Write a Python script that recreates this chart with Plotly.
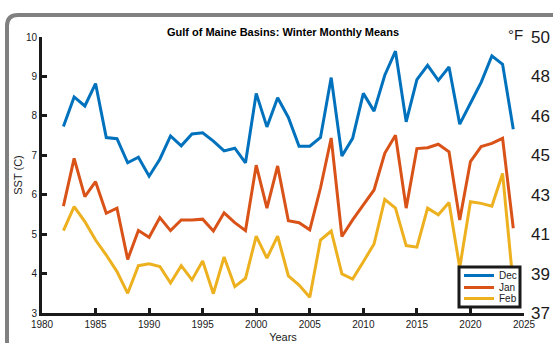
import plotly.graph_objects as go

# Winter monthly mean sea-surface temperature, Gulf of Maine basins (deg C)
years = list(range(1982, 2025))

dec_sst = [7.73, 8.48, 8.25, 8.82, 7.45, 7.42, 6.81, 6.95, 6.47, 6.90,
           7.49, 7.24, 7.54, 7.57, 7.36, 7.11, 7.18, 6.81, 8.57, 7.72,
           8.46, 7.96, 7.23, 7.23, 7.45, 8.97, 6.98, 7.43, 8.57, 8.12,
           9.03, 9.64, 7.85, 8.92, 9.28, 8.90, 9.24, 7.79, 8.32, 8.85,
           9.52, 9.31, 7.66]

jan_sst = [5.71, 6.92, 5.95, 6.33, 5.53, 5.66, 4.36, 5.09, 4.92, 5.42,
           5.09, 5.36, 5.36, 5.38, 5.08, 5.54, 5.29, 5.09, 6.75, 5.66,
           6.73, 5.34, 5.29, 5.11, 6.17, 7.44, 4.94, 5.36, 5.74, 6.12,
           7.05, 7.51, 5.66, 7.17, 7.19, 7.28, 7.09, 5.36, 6.84, 7.22,
           7.30, 7.43, 5.15]

feb_sst = [5.09, 5.70, 5.32, 4.85, 4.47, 4.05, 3.50, 4.20, 4.25, 4.18,
           3.76, 4.20, 3.84, 4.32, 3.49, 4.42, 3.67, 3.88, 4.95, 4.39,
           4.95, 3.94, 3.71, 3.40, 4.85, 5.08, 3.99, 3.86, 4.30, 4.75,
           5.88, 5.66, 4.71, 4.67, 5.66, 5.49, 5.80, 4.15, 5.82, 5.78,
           5.71, 6.54, 3.70]

series_names = ["Dec", "Jan", "Feb"]
series_values = [dec_sst, jan_sst, feb_sst]
series_colors = ["#0072BD", "#D95319", "#EDB120"]

x_ticks = list(range(1980, 2026, 5))
c_ticks = [3, 4, 5, 6, 7, 8, 9, 10]
f_tick_labels = ["37", "39", "41", "43", "45", "46", "48", "50"]

W, H = 553, 343
ML, MR, MT, MB = 42, 29, 37, 30
PW, PH = W - ML - MR, H - MT - MB


def px_x(px):
    """Pixel column -> paper x."""
    return (px - ML) / PW


def px_y(py):
    """Pixel row -> paper y."""
    return (H - MB - py) / PH


FONT = "Liberation Sans, Arial, Helvetica, sans-serif"
INK = "#1a1a1a"

fig = go.Figure()
for name, vals, col in zip(series_names, series_values, series_colors):
    fig.add_trace(go.Scatter(x=years, y=vals, name=name, mode="lines",
                             line=dict(color=col, width=3),
                             showlegend=False))
# empty trace so the Fahrenheit axis is rendered
fig.add_trace(go.Scatter(x=[], y=[], yaxis="y2", showlegend=False,
                         hoverinfo="skip"))

shapes = []
# panel frame (rounded top-left corner)
fx, fy, r = 7, 15, 11
shapes.append(dict(
    type="path", xref="paper", yref="paper", layer="below",
    path=(f"M {px_x(fx)},{px_y(H + 20)} L {px_x(fx)},{px_y(fy + r)} "
          f"Q {px_x(fx)},{px_y(fy)} {px_x(fx + r)},{px_y(fy)} "
          f"L {px_x(W + 20)},{px_y(fy)}"),
    line=dict(color="#808080", width=4)))

# legend box
lx0, ly0, lx1, ly1 = 459, 267, 520, 307
shapes.append(dict(type="rect", xref="paper", yref="paper", layer="above",
                   x0=px_x(lx0), x1=px_x(lx1), y0=px_y(ly1), y1=px_y(ly0),
                   fillcolor="white", line=dict(color=INK, width=3)))
annotations = []
row_y = [275.5, 287.5, 298.5]
for name, col, yy in zip(series_names, series_colors, row_y):
    shapes.append(dict(type="line", xref="paper", yref="paper", layer="above",
                       x0=px_x(464), x1=px_x(494), y0=px_y(yy), y1=px_y(yy),
                       line=dict(color=col, width=3)))
    annotations.append(dict(text=name, xref="paper", yref="paper",
                            x=px_x(497), y=px_y(yy), xanchor="left",
                            yanchor="middle", showarrow=False,
                            font=dict(family=FONT, size=10, color=INK)))

annotations.append(dict(text="°F", xref="paper", yref="paper",
                        x=px_x(525), y=px_y(35), xanchor="right",
                        yanchor="middle", showarrow=False,
                        font=dict(family=FONT, size=15, color=INK)))

fig.update_layout(
    width=W, height=H,
    margin=dict(l=ML, r=MR, t=MT, b=MB, autoexpand=False),
    paper_bgcolor="white", plot_bgcolor="white",
    font=dict(family=FONT, color=INK),
    title=dict(text="<b>Gulf of Maine Basins: Winter Monthly Means</b>",
               x=px_x(283), xref="paper", xanchor="center",
               y=1 - 32 / H, yanchor="middle",
               font=dict(family=FONT, size=11, color="black")),
    xaxis=dict(range=[1980, 2025], tickvals=x_ticks, showgrid=False,
               zeroline=False, showline=True, linecolor=INK, linewidth=3,
               ticks="inside", ticklen=5, tickwidth=2.5, tickcolor=INK,
               tickfont=dict(size=10, color=INK), automargin=False,
               title=dict(text="Years", standoff=5,
                          font=dict(size=11, color=INK))),
    yaxis=dict(range=[3, 10], tickvals=c_ticks, showgrid=False,
               zeroline=False, showline=True, linecolor=INK, linewidth=3,
               ticks="inside", ticklen=5, tickwidth=2.5, tickcolor=INK,
               tickfont=dict(size=10, color=INK), automargin=False,
               title=dict(text="SST (C)", standoff=2,
                          font=dict(size=11, color=INK))),
    yaxis2=dict(range=[3, 10], overlaying="y", side="right",
                tickvals=c_ticks, ticktext=f_tick_labels, showgrid=False,
                zeroline=False, showline=False, ticks="",
                ticklabelstandoff=6, automargin=False,
                tickfont=dict(size=17, color=INK)),
    shapes=shapes, annotations=annotations,
)

fig.write_html("out.html")
